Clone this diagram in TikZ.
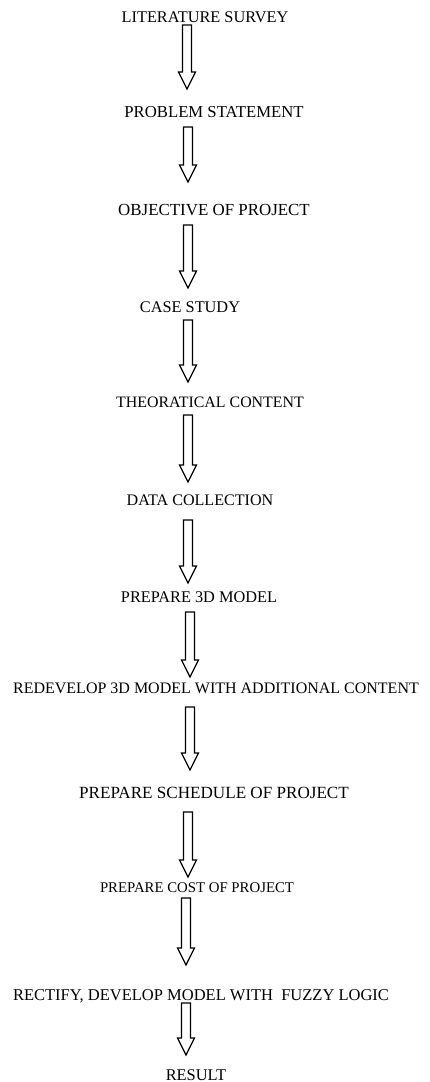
\documentclass[tikz,border=0pt]{standalone}
\usepackage{fontspec}
\setmainfont{Liberation Serif}
\usetikzlibrary{calc}
\tikzset{
  txt/.style={inner sep=0pt, anchor=base, font=\fontsize{16.3}{18}\selectfont},
  blockarrow/.style={draw=black, line width=1.2pt, fill=white, line join=miter,
    to path={let \p1=(\tikztostart), \p2=(\tikztotarget) in
      (\x1-4.5pt,\y1) -- (\x1+4.5pt,\y1) -- (\x1+4.5pt,\y2+17pt) -- (\x1+8.5pt,\y2+17pt)
      -- (\x1,\y2) -- (\x1-8.5pt,\y2+17pt) -- (\x1-4.5pt,\y2+17pt) -- cycle}}
}
\begin{document}
\begin{tikzpicture}[x=1pt,y=-1pt]
\useasboundingbox[fill=white] (0,0) rectangle (429,1082);
\node[txt] (lit) at (205,22) {LITERATURE SURVEY};
\node[txt,font=\fontsize{16.7}{18}\selectfont] (prob) at (214,117) {PROBLEM STATEMENT};
\node[txt,font=\fontsize{16.9}{18}\selectfont] (obj) at (214,215) {OBJECTIVE OF PROJECT};
\node[txt] (case) at (190,312) {CASE STUDY};
\node[txt,font=\fontsize{15.9}{18}\selectfont] (theo) at (210,407) {THEORATICAL CONTENT};
\node[txt,font=\fontsize{16.1}{18}\selectfont] (data) at (200,505) {DATA COLLECTION};
\node[txt] (prep) at (199,602) {PREPARE 3D MODEL};
\node[txt,font=\fontsize{16}{18}\selectfont] (redev) at (216,693) {REDEVELOP 3D MODEL WITH ADDITIONAL CONTENT};
\node[txt,font=\fontsize{17.1}{18}\selectfont] (sched) at (214,798) {PREPARE SCHEDULE OF PROJECT};
\node[txt,font=\fontsize{14.8}{18}\selectfont] (cost) at (197,892) {PREPARE COST OF PROJECT};
\node[txt,font=\fontsize{16.5}{18}\selectfont] (rect) at (201,1000) {RECTIFY, DEVELOP MODEL WITH\ \ FUZZY LOGIC};
\node[txt,font=\fontsize{16.4}{18}\selectfont] (res) at (196,1080) {RESULT};
% arrow end points
\coordinate (a1s) at (187,25);   \coordinate (a1e) at (187,89);
\coordinate (a2s) at (188,127);  \coordinate (a2e) at (188,182);
\coordinate (a3s) at (188,225);  \coordinate (a3e) at (188,288);
\coordinate (a4s) at (188,320);  \coordinate (a4e) at (188,382);
\coordinate (a5s) at (188,415);  \coordinate (a5e) at (188,482);
\coordinate (a6s) at (188,520);  \coordinate (a6e) at (188,583);
\coordinate (a7s) at (190,612);  \coordinate (a7e) at (190,677);
\coordinate (a8s) at (190,707);  \coordinate (a8e) at (190,770);
\coordinate (a9s) at (188,812);  \coordinate (a9e) at (188,877);
\coordinate (a10s) at (186,898); \coordinate (a10e) at (186,965);
\coordinate (a11s) at (186,1003); \coordinate (a11e) at (186,1055);
\foreach \i in {1,...,11}{
  \draw[blockarrow] (a\i s) to (a\i e);
}
\end{tikzpicture}
\end{document}
